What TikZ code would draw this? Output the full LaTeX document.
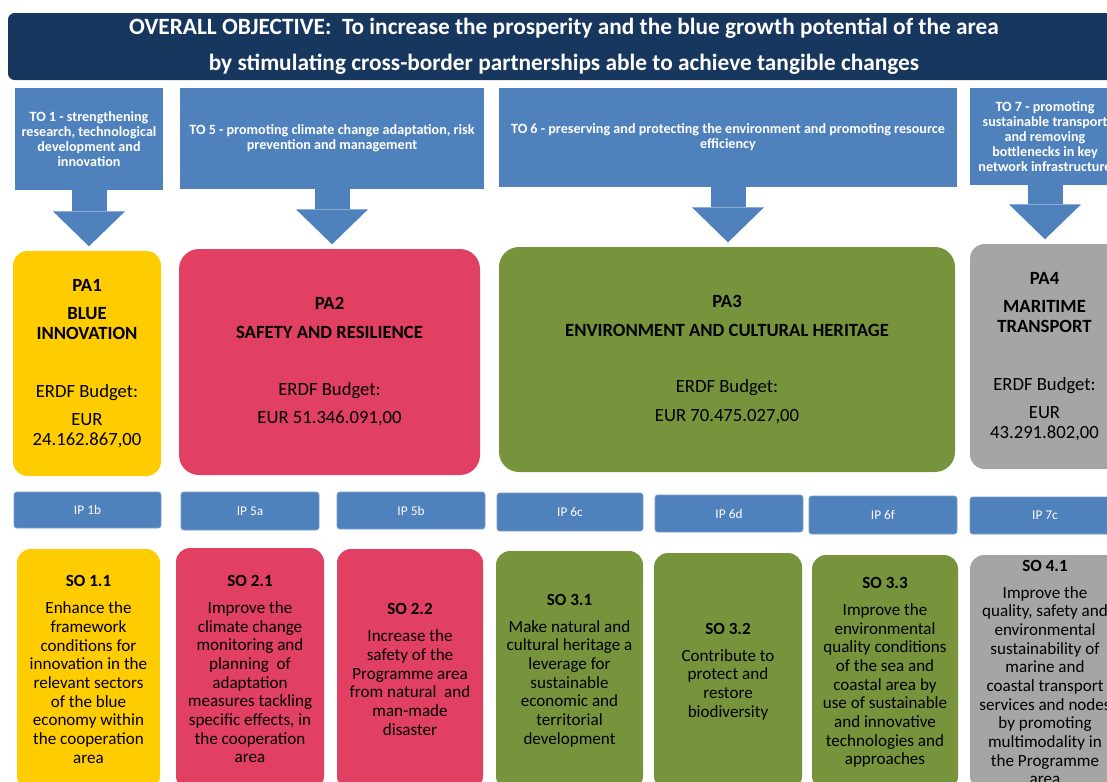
\documentclass[tikz,border=0pt]{standalone}
\usepackage{fontspec}
\setmainfont{Carlito}
\usetikzlibrary{arrows.meta}

\definecolor{navy}{HTML}{18375E}
\definecolor{toblue}{HTML}{4F81BD}
\definecolor{payellow}{HTML}{FFCC00}
\definecolor{pared}{HTML}{E14063}
\definecolor{pagreen}{HTML}{77933C}
\definecolor{pagray}{HTML}{A5A5A5}

\begin{document}
\begin{tikzpicture}[
    x=0.75pt, y=-0.75pt,
    box/.style={inner sep=0pt, outer sep=0pt, align=center},
    header/.style={box, fill=navy, rounded corners=5pt, text=white, font=\fontsize{17.5}{27}\selectfont\bfseries},
    tobox/.style={box, fill=toblue, text=white, font=\fontsize{10.6}{11.25}\selectfont\bfseries},
    toarrow/.style={toblue, line width=26.25pt, -{Triangle[length=26.25pt, width=54pt, line width=0pt]}, shorten >=3.5pt},
    pabox/.style={box, rounded corners=15pt, font=\fontsize{14}{15}\selectfont},
    ipbox/.style={box, fill=toblue, draw=toblue!75!white, line width=0.5pt, rounded corners=2pt, text=white, font=\fontsize{10}{12}\selectfont},
    sobox/.style={box, rounded corners=10.5pt, font=\fontsize{12.8}{14}\selectfont}
]
\useasboundingbox (0,0) rectangle (1107,782);

\node[header, minimum width=834pt, minimum height=50.25pt] (obj) at (564,46.5) {OVERALL OBJECTIVE:\ \ To increase the prosperity and the blue growth potential of the area\\by stimulating cross-border partnerships able to achieve tangible changes};

\node[tobox, minimum width=111pt, minimum height=76.5pt] (to1) at (89,139) {TO 1 - strengthening\\research, technological\\development and\\innovation};
\node[tobox, minimum width=228pt, minimum height=75.75pt] (to5) at (332,138.5) {TO 5 - promoting climate change adaptation, risk\\prevention and management};
\node[tobox, minimum width=343.5pt, minimum height=74.25pt] (to6) at (728,137.5) {TO 6 - preserving and protecting the environment and promoting resource\\efficiency};
\node[tobox, minimum width=112.5pt, minimum height=72.75pt] (to7) at (1045,136.5) {TO 7 - promoting\\sustainable transport\\and removing\\bottlenecks in key\\network infrastructure};

\node[pabox, fill=payellow, rounded corners=11pt, minimum width=111pt, minimum height=168.75pt] (pa1) at (87,363.5) {\textbf{PA1}\\[6.5pt]\textbf{BLUE}\\\textbf{INNOVATION}\\[28pt]ERDF Budget:\\[6.5pt]EUR\\24.162.867,00};
\node[pabox, fill=pared, minimum width=225.75pt, minimum height=169.5pt] (pa2) at (329.5,362) {\textbf{PA2}\\[6.5pt]\textbf{SAFETY AND RESILIENCE}\\[27.5pt]ERDF Budget:\\[6.5pt]EUR 51.346.091,00};
\node[pabox, fill=pagreen, minimum width=342pt, minimum height=168.75pt] (pa3) at (727,359.5) {\textbf{PA3}\\[6.5pt]\textbf{ENVIRONMENT AND CULTURAL HERITAGE}\\[27.5pt]ERDF Budget:\\[6.5pt]EUR 70.475.027,00};
\node[pabox, fill=pagray, rounded corners=11pt, minimum width=111.75pt, minimum height=168.75pt] (pa4) at (1044.5,356.5) {\textbf{PA4}\\[6.5pt]\textbf{MARITIME}\\\textbf{TRANSPORT}\\[28pt]ERDF Budget:\\[6.5pt]EUR\\43.291.802,00};

\draw[toarrow] (to1.south) -- (to1.south |- pa1.north);
\draw[toarrow] (to5.south) -- (to5.south |- pa2.north);
\draw[toarrow] (to6.south) -- (to6.south |- pa3.north);
\draw[toarrow] (to7.south) -- (to7.south |- pa4.north);

\node[ipbox, minimum width=110.25pt, minimum height=27pt] (ip1b) at (87.5,510) {IP 1b};
\node[ipbox, minimum width=103.5pt, minimum height=28.5pt] (ip5a) at (250,511) {IP 5a};
\node[ipbox, minimum width=111pt, minimum height=27.75pt] (ip5b) at (411,510.5) {IP 5b};
\node[ipbox, minimum width=109.5pt, minimum height=28.5pt] (ip6c) at (570,512) {IP 6c};
\node[ipbox, minimum width=111pt, minimum height=27.75pt] (ip6d) at (729,513.5) {IP 6d};
\node[ipbox, minimum width=111pt, minimum height=28.5pt] (ip6f) at (883,515) {IP 6f};
\node[ipbox, minimum width=112.5pt, minimum height=27.75pt] (ip7c) at (1045,515.5) {IP 7c};

\node[sobox, fill=payellow, minimum width=107.25pt, minimum height=180.75pt] (so11) at (88.5,669.5) {\textbf{SO 1.1}\\[6.25pt]Enhance the\\framework\\conditions for\\innovation in the\\relevant sectors\\of the blue\\economy within\\the cooperation\\area};
\node[sobox, fill=pared, minimum width=111pt, minimum height=181.5pt] (so21) at (250,669) {\textbf{SO 2.1}\\[6.25pt]Improve the\\climate change\\monitoring and\\planning\ \ of\\adaptation\\measures tackling\\specific effects, in\\the cooperation\\area};
\node[sobox, fill=pared, minimum width=109.5pt, minimum height=180.75pt] (so22) at (410,669.5) {\textbf{SO 2.2}\\[6.25pt]Increase the\\safety of the\\Programme area\\from natural\ \ and\\man-made\\disaster};
\node[sobox, fill=pagreen, minimum width=110.25pt, minimum height=179.25pt] (so31) at (569.5,670.5) {\textbf{SO 3.1}\\[6.25pt]Make natural and\\cultural heritage a\\leverage for\\sustainable\\economic and\\territorial\\development};
\node[sobox, fill=pagreen, minimum width=111pt, minimum height=177.75pt] (so32) at (728,671.5) {\textbf{SO 3.2}\\[6.25pt]Contribute to\\protect and\\restore\\biodiversity};
\node[sobox, fill=pagreen, minimum width=109.5pt, minimum height=176.25pt] (so33) at (885,672.5) {\textbf{SO 3.3}\\[6.25pt]Improve the\\environmental\\quality conditions\\of the sea and\\coastal area by\\use of sustainable\\and innovative\\technologies and\\approaches};
\node[sobox, fill=pagray, minimum width=112.5pt, minimum height=176.25pt] (so41) at (1045,672.5) {\textbf{SO 4.1}\\[6.25pt]Improve the\\quality, safety and\\environmental\\sustainability of\\marine and\\coastal transport\\services and nodes\\by promoting\\multimodality in\\the Programme\\area};
\end{tikzpicture}
\end{document}
